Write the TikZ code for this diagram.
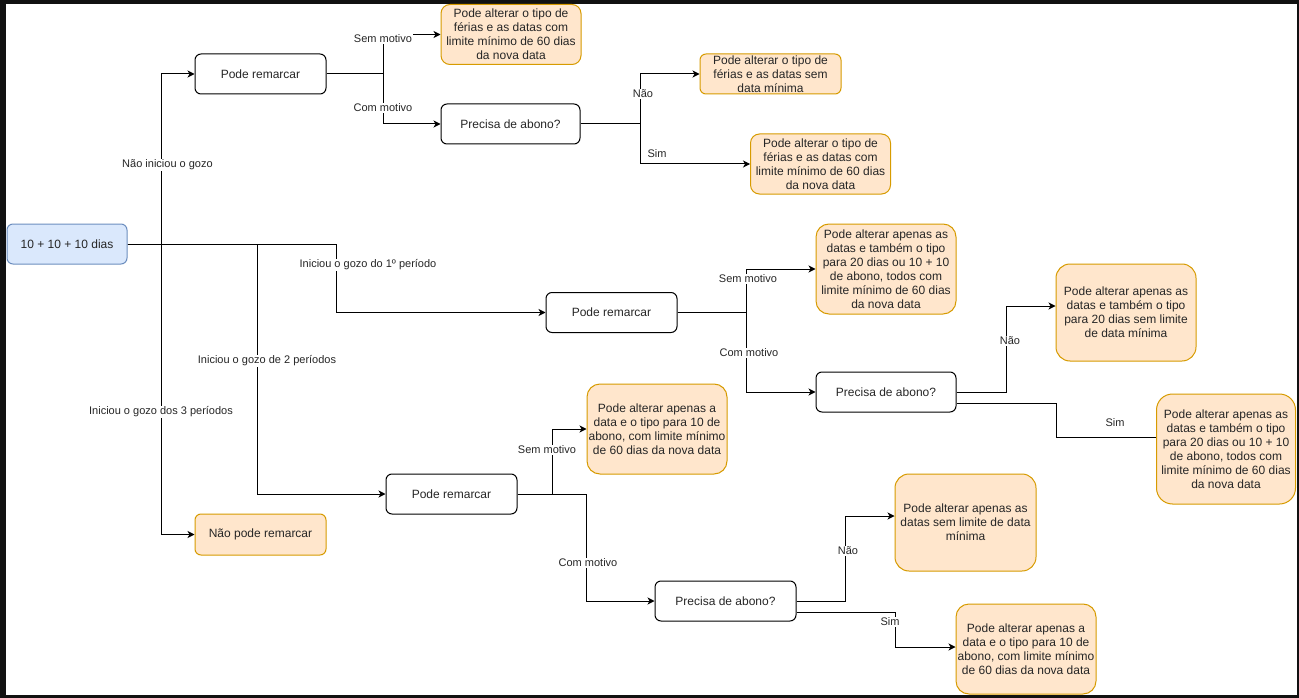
\documentclass[tikz,border=0pt]{standalone}
\usepackage{fontspec}
\setmainfont{Liberation Sans}
\usetikzlibrary{arrows.meta}
\definecolor{orfill}{HTML}{FFE6CC}
\definecolor{ordraw}{HTML}{D79B00}
\definecolor{blfill}{HTML}{DAE8FC}
\definecolor{bldraw}{HTML}{6C8EBF}
\definecolor{txt}{HTML}{262626}
\definecolor{frame}{HTML}{111111}
\tikzset{
  box/.style={draw=black, line width=1pt, align=center, inner sep=0pt, text=txt,
    font=\fontsize{12}{14}\selectfont},
  bluebox/.style={box, fill=blfill, draw=bldraw},
  orbox/.style={box, fill=orfill, draw=ordraw},
  conn/.style={line width=1pt, draw=black},
  arr/.style={conn, -{Stealth[length=7pt,width=7pt,inset=2pt]}},
  lbl/.style={fill=white, inner sep=1pt, text=txt, font=\fontsize{11}{13}\selectfont},
}
\begin{document}
\begin{tikzpicture}[x=1pt,y=-1pt]
\useasboundingbox (0,0) rectangle (1299,698);
\fill[frame] (0,0) rectangle (1299,698);
\fill[white] (6,4) rectangle (1297,695);

% nodes
\node[bluebox, minimum width=120, minimum height=40, rounded corners=6] (root) at (67,244) {10 + 10 + 10 dias};
\node[box, minimum width=131, minimum height=40, rounded corners=6] (pr1) at (260.5,74) {Pode remarcar};
\node[orbox, minimum width=131, minimum height=41, rounded corners=6] (npr) at (260.5,534.5) {Não pode remarcar};

\node[orbox, minimum width=140, minimum height=60, rounded corners=9] (A1) at (511,34.5) {Pode alterar o tipo de\\férias e as datas com\\limite mínimo de 60 dias\\da nova data};
\node[box, minimum width=139, minimum height=40, rounded corners=6] (prec1) at (510.5,124) {Precisa de abono?};
\node[orbox, minimum width=141, minimum height=40, rounded corners=6] (B1) at (770.5,74) {Pode alterar o tipo de\\férias e as datas sem\\data mínima};
\node[orbox, minimum width=140, minimum height=60, rounded corners=9] (B2) at (820.5,164) {Pode alterar o tipo de\\férias e as datas com\\limite mínimo de 60 dias\\da nova data};

\node[box, minimum width=131, minimum height=40, rounded corners=6] (pr2) at (611.5,312.5) {Pode remarcar};
\node[orbox, minimum width=140, minimum height=90, rounded corners=13] (C1) at (886,269) {Pode alterar apenas as\\datas e também o tipo\\para 20 dias ou 10 + 10\\de abono, todos com\\limite mínimo de 60 dias\\da nova data};
\node[box, minimum width=140, minimum height=40, rounded corners=6] (prec2) at (886,392) {Precisa de abono?};
\node[orbox, minimum width=140, minimum height=97, rounded corners=14] (C2) at (1126,312.5) {Pode alterar apenas as\\datas e também o tipo\\para 20 dias sem limite\\de data mínima};
\node[orbox, minimum width=139, minimum height=110, rounded corners=16] (C3) at (1226,449) {Pode alterar apenas as\\datas e também o tipo\\para 20 dias ou 10 + 10\\de abono, todos com\\limite mínimo de 60 dias\\da nova data};

\node[box, minimum width=131, minimum height=40, rounded corners=6] (pr3) at (451.5,494) {Pode remarcar};
\node[orbox, minimum width=140, minimum height=90, rounded corners=13] (D1) at (657,429) {Pode alterar apenas a\\data e o tipo para 10 de\\abono, com limite mínimo\\de 60 dias da nova data};
\node[box, minimum width=141, minimum height=40, rounded corners=6] (prec3) at (725.5,601) {Precisa de abono?};
\node[orbox, minimum width=141, minimum height=97, rounded corners=14] (E1) at (965.5,522.5) {Pode alterar apenas as\\datas sem limite de data\\mínima};
\node[orbox, minimum width=140, minimum height=90, rounded corners=13] (E2) at (1026,649) {Pode alterar apenas a\\data e o tipo para 10 de\\abono, com limite mínimo\\de 60 dias da nova data};

% connectors from root
\draw[arr] (root.east) -- ++(34,0) |- (pr1.west);
\draw[arr] (root.east) -- ++(34,0) |- (npr.west);
\draw[arr] (root.east) -- ++(209,0) |- (pr2.west);
\draw[arr] (root.east) -- ++(130,0) |- (pr3.west);

% top branch
\draw[arr] (pr1.east) -- ++(57,0) |- (A1.west);
\draw[arr] (pr1.east) -- ++(57,0) |- (prec1.west);
\draw[arr] (prec1.east) -- ++(60,0) |- (B1.west);
\draw[arr] (prec1.east) -- ++(60,0) |- (B2.west);

% middle branch
\draw[arr] (pr2.east) -- ++(69,0) |- (C1.west);
\draw[arr] (pr2.east) -- ++(69,0) |- (prec2.west);
\draw[arr] (prec2.east) -- ++(50,0) |- ([yshift=6.5pt]C2.west);
\draw[conn] ([yshift=-11pt]prec2.east) -- ++(100,0) |- ([yshift=12pt]C3.west);

% bottom branch
\draw[arr] (pr3.east) -- ++(35,0) |- (D1.west);
\draw[arr] (pr3.east) -- ++(69,0) |- (prec3.west);
\draw[arr] (prec3.east) -- ++(49,0) |- ([yshift=6.5pt]E1.west);
\draw[arr] ([yshift=-11pt]prec3.east) -- ++(99,0) |- ([yshift=2pt]E2.west);

% labels
\node[lbl] (l1) at (167.5,165) {Não iniciou o gozo};
\node[lbl] (l2) at (161,412) {Iniciou o gozo dos 3 períodos};
\node[lbl] (l3) at (368,265) {Iniciou o gozo do 1º período};
\node[lbl] (l4) at (267,361) {Iniciou o gozo de 2 períodos};
\node[lbl] (l5) at (383,39) {Sem motivo};
\node[lbl] (l6) at (383,108) {Com motivo};
\node[lbl] (l7) at (643,94) {Não};
\node[lbl] (l8) at (657,154) {Sim};
\node[lbl] (l9) at (748,279) {Sem motivo};
\node[lbl] (l10) at (749,353) {Com motivo};
\node[lbl] (l11) at (1010,341) {Não};
\node[lbl] (l12) at (1115,423) {Sim};
\node[lbl] (l13) at (547,450) {Sem motivo};
\node[lbl] (l14) at (588,563) {Com motivo};
\node[lbl] (l15) at (848,551) {Não};
\node[lbl] (l16) at (890,622) {Sim};
\end{tikzpicture}
\end{document}
